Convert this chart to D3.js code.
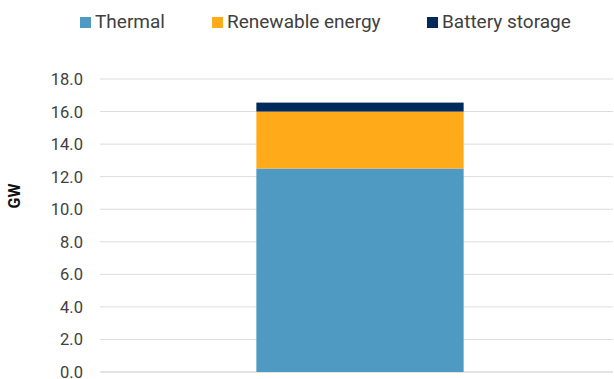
<!DOCTYPE html>
<html>
<head>
<meta charset="utf-8">
<script src="https://cdn.jsdelivr.net/npm/d3@7"></script>
<style>
  html, body { margin: 0; padding: 0; background: #fff; }
  svg { display: block; }
  text { font-family: Roboto, "Noto Sans", sans-serif; }
</style>
</head>
<body>
<svg id="chart" width="614" height="379"></svg>
<script>
// Installed capacity by technology (GW)
const categories = ["Capacity"];
const seriesNames = ["Thermal", "Renewable energy", "Battery storage"];
const thermal = [12.5];
const renewable = [3.5];
const battery = [0.55];
const yTicks = [0, 2, 4, 6, 8, 10, 12, 14, 16, 18];
const colors = ["#4f9ac3", "#ffab19", "#002a5c"];

const rows = categories.map((c, i) => ({
  category: c,
  "Thermal": thermal[i],
  "Renewable energy": renewable[i],
  "Battery storage": battery[i]
}));

const svg = d3.select("#chart");
const plot = { left: 100, right: 613, top: 79, bottom: 372 };

const y = d3.scaleLinear().domain([0, 18]).range([plot.bottom, plot.top]);
const x = d3.scaleBand().domain(categories).range([plot.left, 620]).paddingOuter(0.43).paddingInner(0.43);

// Gridlines
svg.append("g")
  .selectAll("line")
  .data(yTicks)
  .join("line")
  .attr("x1", plot.left)
  .attr("x2", plot.right)
  .attr("y1", d => y(d))
  .attr("y2", d => y(d))
  .attr("stroke", d => d === 0 ? "#e3e3e3" : "#dcdcdc")
  .attr("stroke-width", d => d === 0 ? 2 : 1);

// Y axis labels
const yAxis = svg.append("g")
  .attr("transform", `translate(${plot.left - 17},0)`)
  .call(d3.axisLeft(y).tickValues(yTicks).tickFormat(d3.format(".1f")).tickSize(0).tickPadding(0));
yAxis.select(".domain").remove();
yAxis.selectAll("text")
  .attr("font-size", 16.5)
  .attr("fill", "#404040")
  .attr("font-family", "Roboto, sans-serif")
  .attr("dy", "0.33em");

// Axis title
svg.append("text")
  .attr("transform", `translate(20,196) rotate(-90)`)
  .attr("text-anchor", "middle")
  .attr("font-size", 16)
  .attr("font-weight", "bold")
  .attr("fill", "#111")
  .text("GW");

// Stacked bars
const stack = d3.stack().keys(seriesNames)(rows);
svg.append("g")
  .selectAll("g")
  .data(stack)
  .join("g")
  .attr("fill", (d, i) => colors[i])
  .selectAll("rect")
  .data(d => d)
  .join("rect")
  .attr("x", d => x(d.data.category))
  .attr("width", x.bandwidth())
  .attr("y", d => y(d[1]))
  .attr("height", d => y(d[0]) - y(d[1]));

// Legend
const legendX = [80, 212, 427];
const legend = svg.append("g")
  .selectAll("g")
  .data(seriesNames)
  .join("g")
  .attr("transform", (d, i) => `translate(${legendX[i]},17)`);
legend.append("rect")
  .attr("width", 11)
  .attr("height", 11)
  .attr("fill", (d, i) => colors[i]);
legend.append("text")
  .attr("x", 15)
  .attr("y", 11)
  .attr("font-size", 19)
  .attr("fill", "#404040")
  .text(d => d);
</script>
</body>
</html>
